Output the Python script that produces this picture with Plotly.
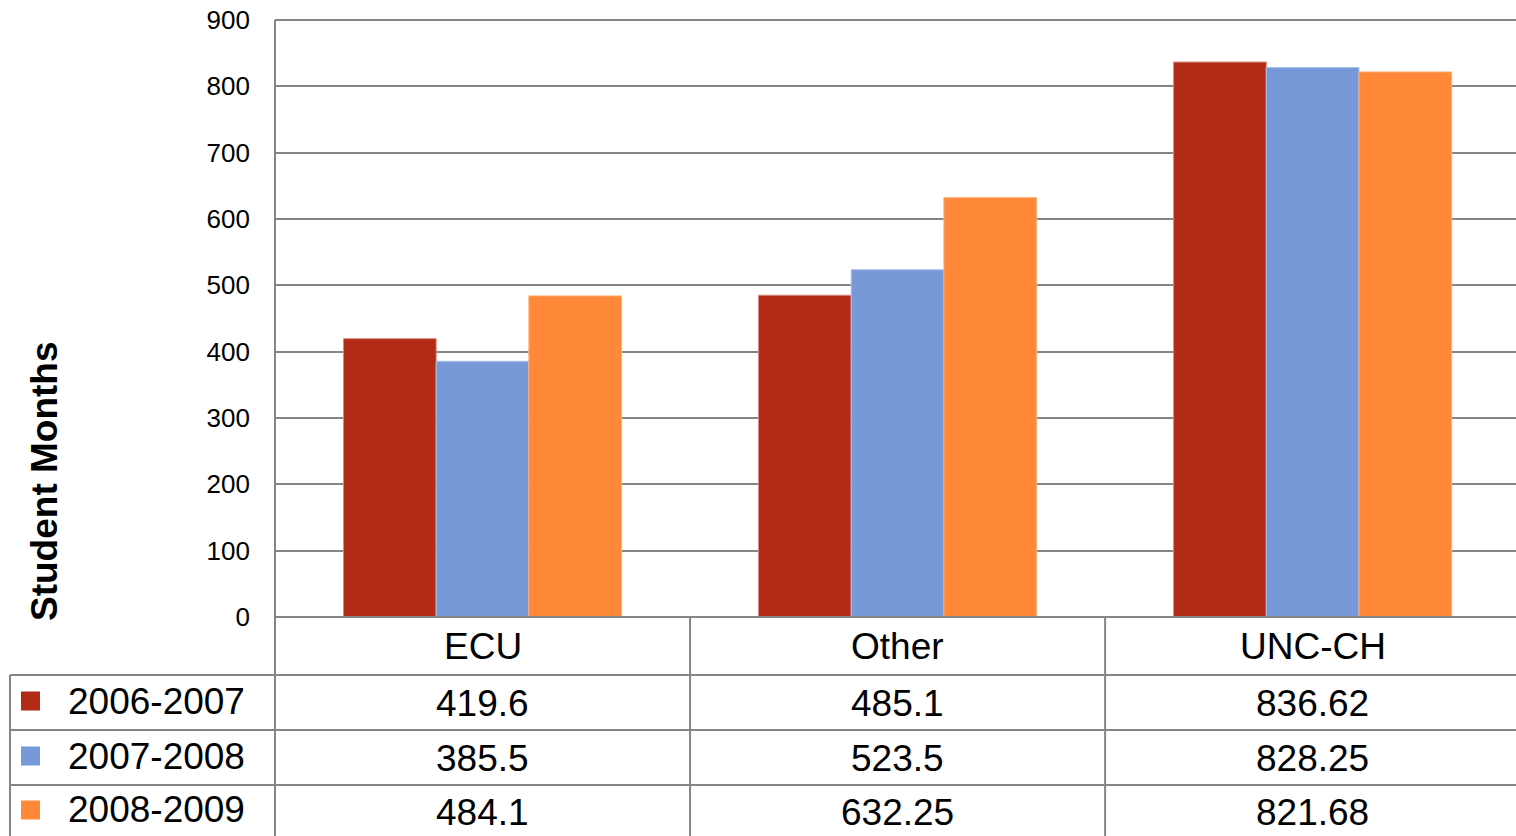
import plotly.graph_objects as go

categories = ["ECU", "Other", "UNC-CH"]
series_names = ["2006-2007", "2007-2008", "2008-2009"]
values_2006 = [419.6, 485.1, 836.62]
values_2007 = [385.5, 523.5, 828.25]
values_2008 = [484.1, 632.25, 821.68]
series_values = [values_2006, values_2007, values_2008]
colors = ["#B22B17", "#7799D7", "#FF8839"]
border_colors = ["#D98A80", "#A9BEE6", "#FFB07A"]
y_ticks = [0, 100, 200, 300, 400, 500, 600, 700, 800, 900]
axis_title = "Student Months"

FONT = "Liberation Sans, Arial, sans-serif"
W, H = 1516, 836
ML, MR, MT, MB = 275, 0, 20, 219
PW, PH = W - ML - MR, H - MT - MB
GRID = "#858585"

def py(pix):  # pixel row -> paper y
    return (H - MB - pix) / PH

def px(pix):  # pixel column -> paper x
    return (pix - ML) / PW

fig = go.Figure()
for name, vals, c, bc in zip(series_names, series_values, colors, border_colors):
    fig.add_trace(go.Bar(x=categories, y=vals, name=name,
                         marker=dict(color=c, line=dict(color=bc, width=1))))

fig.update_layout(
    width=W, height=H,
    margin=dict(l=ML, r=MR, t=MT, b=MB),
    paper_bgcolor="white", plot_bgcolor="white",
    barmode="group", bargap=0.33, bargroupgap=0,
    showlegend=False,
    font=dict(family=FONT, color="black"),
)
fig.update_yaxes(range=[0, 900], tickvals=y_ticks, showgrid=True, gridcolor=GRID,
                 gridwidth=2, zeroline=False, showline=False,
                 tickfont=dict(size=26, family=FONT), ticks="", ticklabelstandoff=24)
fig.update_xaxes(showticklabels=False, showgrid=False, zeroline=False, showline=False,
                 range=[-0.5, 2.49])

shapes = []
line = dict(color=GRID, width=2)
shapes.append(dict(type="line", xref="paper", yref="paper", x0=0, x1=0,
                   y0=py(H + 5), y1=1, line=line, layer="above"))
shapes.append(dict(type="line", xref="paper", yref="paper", x0=0, x1=1,
                   y0=1, y1=1, line=line, layer="below"))
shapes.append(dict(type="line", xref="paper", yref="paper", x0=0, x1=1,
                   y0=0, y1=0, line=line, layer="above"))
row_edges = [675, 730, 785]
for r in row_edges:
    shapes.append(dict(type="line", xref="paper", yref="paper", x0=px(10), x1=1,
                       y0=py(r), y1=py(r), line=line))
shapes.append(dict(type="line", xref="paper", yref="paper", x0=px(10), x1=px(10),
                   y0=py(H + 5), y1=py(675), line=line))
for i in range(1, len(categories)):
    shapes.append(dict(type="line", xref="x", yref="paper", x0=i - 0.5, x1=i - 0.5,
                       y0=py(H + 5), y1=0, line=line))
row_centers = [701, 756, 810]
for c, yc in zip(colors, row_centers):
    shapes.append(dict(type="rect", xref="paper", yref="paper", x0=px(21), x1=px(40),
                       y0=py(yc + 9.5), y1=py(yc - 9.5), fillcolor=c, line=dict(width=0)))
fig.update_layout(shapes=shapes)

ann = []
for cat in categories:
    ann.append(dict(x=cat, xref="x", y=py(646), yref="paper", text=cat, showarrow=False,
                    font=dict(size=37, family=FONT), xanchor="center", yanchor="middle"))
for name, vals, yc in zip(series_names, series_values, row_centers):
    ann.append(dict(x=px(66), xref="paper", y=py(yc), yref="paper", text=name, showarrow=False,
                    font=dict(size=37, family=FONT), xanchor="left", yanchor="middle"))
    for cat, v in zip(categories, vals):
        ann.append(dict(x=cat, xref="x", y=py(yc + 2), yref="paper", text=f"{v:g}",
                        showarrow=False, font=dict(size=37, family=FONT),
                        xanchor="center", yanchor="middle"))
ann.append(dict(x=px(44), xref="paper", y=py(481), yref="paper", text=f"<b>{axis_title}</b>",
                showarrow=False, textangle=-90, font=dict(size=37, family=FONT),
                xanchor="center", yanchor="middle"))
fig.update_layout(annotations=ann)

fig.write_html("out.html", config={"displayModeBar": False},
               post_script="document.body.style.margin='0px';document.body.style.overflow='hidden';")
